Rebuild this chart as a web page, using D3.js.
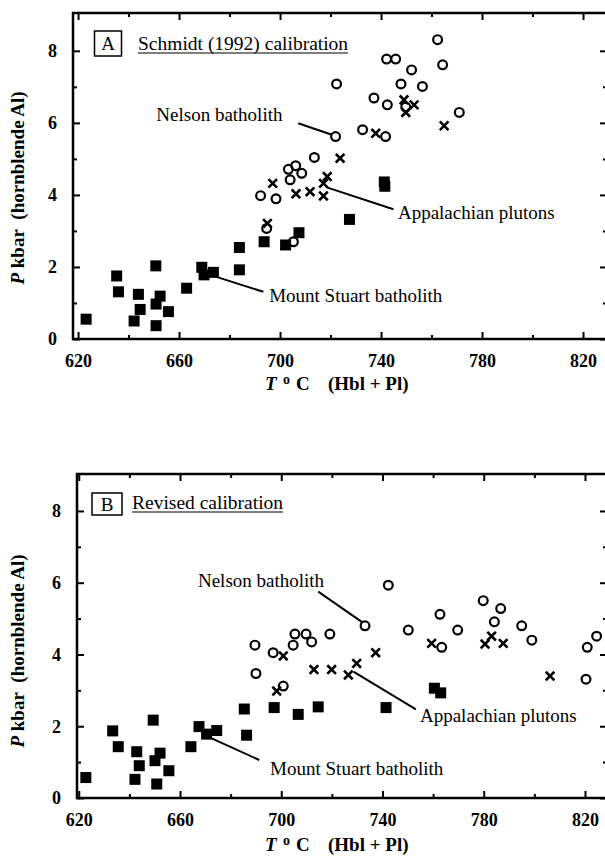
<!DOCTYPE html>
<html><head><meta charset="utf-8">
<script src="https://cdn.jsdelivr.net/npm/d3@7"></script>
<style>
html,body{margin:0;padding:0;background:#fff;}
svg{display:block;}
text{font-family:"Liberation Serif","Times New Roman",serif;fill:#000;}
</style></head>
<body>
<script>
// ---- tick values ----
const xTickLabels = [620, 660, 700, 740, 780, 820];
const xMinorTicks = [640, 680, 720, 760, 800];
const yTickLabels = [0, 2, 4, 6, 8];
const yMinorTicks = [1, 3, 5, 7];

// ---- Panel A: Schmidt (1992) calibration  [T degC, P kbar] ----
const aNelson = [[762.4,8.31],[742.2,7.77],[745.8,7.77],[764.4,7.61],[752.1,7.47],[722.4,7.08],[747.9,7.08],[756.4,7.01],[737.2,6.69],[742.5,6.5],[749.8,6.44],[771,6.29],[732.7,5.81],[741.8,5.62],[722,5.62],[713.6,5.04],[706.2,4.81],[703.3,4.71],[708.6,4.6],[704,4.42],[692.3,3.98],[698.4,3.89],[694.7,3.07],[705.3,2.7]];
const aAppalachian = [[749.1,6.64],[753.1,6.5],[749.8,6.29],[765,5.92],[737.9,5.71],[723.8,5.02],[718.7,4.51],[717.2,4.32],[697.1,4.32],[706.3,4.03],[711.9,4.09],[717.2,3.97],[695,3.21]];
const aStuart = [[623.2,0.55],[635.3,1.75],[636,1.31],[643.9,1.24],[644.6,0.82],[642.2,0.5],[650.8,2.03],[652.5,1.19],[650.9,0.97],[655.8,0.76],[650.9,0.37],[663,1.41],[669,1.99],[669.9,1.78],[673.6,1.85],[683.9,2.54],[683.9,1.92],[693.7,2.7],[702.2,2.61],[707.5,2.95],[727.5,3.32],[741.3,4.36],[741.5,4.24]];

// ---- Panel B: Revised calibration ----
const bNelson = [[742.3,5.93],[733.1,4.8],[779.8,5.5],[786.7,5.28],[762.7,5.12],[784.2,4.91],[795,4.8],[750.2,4.68],[769.7,4.68],[799,4.4],[763.4,4.2],[824.6,4.51],[820.9,4.2],[820.4,3.31],[719.2,4.57],[705.4,4.57],[709.8,4.57],[704.7,4.26],[712,4.35],[689.6,4.26],[696.8,4.05],[690,3.47],[700.8,3.12]];
const bAppalachian = [[700.8,3.96],[698.2,2.98],[712.9,3.58],[719.9,3.58],[726.5,3.43],[729.8,3.75],[737.3,4.05],[759.4,4.31],[780.5,4.29],[783.1,4.51],[787.7,4.31],[806.2,3.4]];
const bStuart = [[622.8,0.57],[633.4,1.87],[635.6,1.43],[642.9,1.29],[643.9,0.9],[642.2,0.52],[649.4,2.17],[652.1,1.25],[650.1,1.04],[655.6,0.76],[650.8,0.39],[664.3,1.43],[667.5,1.99],[670.5,1.78],[674.5,1.88],[685.4,2.48],[686.3,1.75],[697.2,2.52],[706.7,2.33],[714.6,2.54],[741.4,2.52],[760.5,3.06],[763,2.93]];

// ---- labels ----
const panelLetters = ["A", "B"];
const panelTitles = ["Schmidt (1992) calibration", "Revised calibration"];
const seriesNames = ["Nelson batholith", "Appalachian plutons", "Mount Stuart batholith"];
// leader lines in data space: [from T, from P, to T, to P], label anchor [T, P]
const aNotes = [
  {name: seriesNames[0], line: [707.2,5.99,720.5,5.67], at: [651,6.06]},
  {name: seriesNames[1], line: [718.5,4.21,744.9,3.6], at: [746.7,3.33]},
  {name: seriesNames[2], line: [672.3,1.78,693.4,1.31], at: [695.7,1.04]}
];
const bNotes = [
  {name: seriesNames[0], line: [714.6,5.75,731.8,4.91], at: [667.1,5.89]},
  {name: seriesNames[1], line: [728.5,3.52,753.2,2.47], at: [754.8,2.13]},
  {name: seriesNames[2], line: [672.5,1.66,691.3,1.06], at: [695.6,0.64]}
];

const W = 605, H = 857;
const svg = d3.select("body").append("svg").attr("width", W).attr("height", H);
svg.append("rect").attr("width", W).attr("height", H).attr("fill", "#fff");

function drawPanel(cfg) {
  const x = d3.scaleLinear().domain(cfg.xDomain).range([cfg.left, cfg.right]);
  const y = d3.scaleLinear().domain(cfg.yDomain).range([cfg.bottom, cfg.top]);
  const g = svg.append("g");

  // frame
  g.append("rect").attr("x", cfg.left).attr("y", cfg.top)
    .attr("width", cfg.right - cfg.left).attr("height", cfg.bottom - cfg.top)
    .attr("fill", "none").attr("stroke", "#000").attr("stroke-width", 2.5);

  const majorLen = 7, minorLen = 4;
  const fmt = d3.format("d");
  const xb = d3.axisBottom(x).tickValues(xTickLabels).tickSize(-majorLen).tickPadding(majorLen + 8).tickFormat(fmt);
  const gxb = g.append("g").attr("transform", `translate(0,${cfg.bottom})`).call(xb);
  const xt = d3.axisTop(x).tickValues(xTickLabels).tickSize(-majorLen).tickFormat("");
  const gxt = g.append("g").attr("transform", `translate(0,${cfg.top})`).call(xt);
  const xbm = d3.axisBottom(x).tickValues(xMinorTicks).tickSize(-minorLen).tickFormat("");
  const gxbm = g.append("g").attr("transform", `translate(0,${cfg.bottom})`).call(xbm);
  const xtm = d3.axisTop(x).tickValues(xMinorTicks).tickSize(-minorLen).tickFormat("");
  const gxtm = g.append("g").attr("transform", `translate(0,${cfg.top})`).call(xtm);

  const yl = d3.axisLeft(y).tickValues(yTickLabels).tickSize(-majorLen).tickPadding(majorLen + 9).tickFormat(fmt);
  const gyl = g.append("g").attr("transform", `translate(${cfg.left},0)`).call(yl);
  const yr = d3.axisRight(y).tickValues(yTickLabels).tickSize(-majorLen).tickFormat("");
  const gyr = g.append("g").attr("transform", `translate(${cfg.right},0)`).call(yr);
  const ylm = d3.axisLeft(y).tickValues(yMinorTicks).tickSize(-minorLen).tickFormat("");
  const gylm = g.append("g").attr("transform", `translate(${cfg.left},0)`).call(ylm);
  const yrm = d3.axisRight(y).tickValues(yMinorTicks).tickSize(-minorLen).tickFormat("");
  const gyrm = g.append("g").attr("transform", `translate(${cfg.right},0)`).call(yrm);

  [gxb, gxt, gxbm, gxtm, gyl, gyr, gylm, gyrm].forEach(a => {
    a.select(".domain").remove();
    a.selectAll(".tick line").attr("stroke", "#000").attr("stroke-width", 2);
  });
  [gxb, gyl].forEach(a => a.selectAll(".tick text")
    .attr("font-family", '"Liberation Serif", serif').attr("font-weight", "bold")
    .attr("font-size", 18).attr("fill", "#000"));

  // axis titles
  const yt = g.append("text")
    .attr("transform", `translate(${cfg.yLabelX},${cfg.yLabelY}) rotate(-90)`)
    .attr("text-anchor", "middle").attr("font-weight", "bold").attr("font-size", 19);
  yt.append("tspan").attr("font-style", "italic").text("P");
  yt.append("tspan").text(" kbar\u00a0\u00a0(hornblende Al)");

  const xl = cfg.xLabelBase;
  g.append("text").attr("x", 265).attr("y", xl).attr("font-weight", "bold").attr("font-style", "italic").attr("font-size", 19).text("T");
  g.append("text").attr("x", 283).attr("y", xl - 6).attr("font-weight", "bold").attr("font-size", 14).text("o");
  g.append("text").attr("x", 296).attr("y", xl).attr("font-weight", "bold").attr("font-size", 19).text("C");
  g.append("text").attr("x", 328).attr("y", xl).attr("font-weight", "bold").attr("font-size", 19).text("(Hbl + Pl)");

  // panel letter box & title
  g.append("rect").attr("x", cfg.boxX).attr("y", cfg.boxY).attr("width", cfg.boxW).attr("height", cfg.boxH)
    .attr("fill", "none").attr("stroke", "#000").attr("stroke-width", 1.5);
  g.append("text").attr("x", cfg.boxX + cfg.boxW / 2).attr("y", cfg.boxY + cfg.boxH / 2 + 6.5)
    .attr("text-anchor", "middle").attr("font-size", 19).text(cfg.letter);
  const tt = g.append("text").attr("x", cfg.titleX).attr("y", cfg.titleY).attr("font-size", 19.5).text(cfg.title);
  const tw = tt.node().getComputedTextLength();
  g.append("line").attr("x1", cfg.titleX).attr("x2", cfg.titleX + tw)
    .attr("y1", cfg.titleY + 3).attr("y2", cfg.titleY + 3).attr("stroke", "#000").attr("stroke-width", 1.2);

  // annotations
  cfg.notes.forEach(n => {
    g.append("line").attr("x1", x(n.line[0])).attr("y1", y(n.line[1]))
      .attr("x2", x(n.line[2])).attr("y2", y(n.line[3]))
      .attr("stroke", "#000").attr("stroke-width", 2);
    g.append("text").attr("x", x(n.at[0])).attr("y", y(n.at[1])).attr("font-size", 19).text(n.name);
  });

  // marks: squares
  const sq = 11;
  g.append("g").selectAll("rect").data(cfg.stuart).join("rect")
    .attr("x", d => x(d[0]) - sq / 2).attr("y", d => y(d[1]) - sq / 2)
    .attr("width", sq).attr("height", sq).attr("fill", "#000");
  // circles
  g.append("g").selectAll("circle").data(cfg.nelson).join("circle")
    .attr("cx", d => x(d[0])).attr("cy", d => y(d[1])).attr("r", 4.4)
    .attr("fill", "none").attr("stroke", "#000").attr("stroke-width", 2.2);
  // crosses
  const c = 4.3;
  g.append("g").selectAll("path").data(cfg.appalachian).join("path")
    .attr("d", d => {
      const px = x(d[0]), py = y(d[1]);
      return `M${px - c},${py - c}L${px + c},${py + c}M${px - c},${py + c}L${px + c},${py - c}`;
    })
    .attr("stroke", "#000").attr("stroke-width", 2.6).attr("fill", "none");
}

drawPanel({
  left: 73, right: 607, top: 13, bottom: 339,
  xDomain: [618, 829.5], yDomain: [0, 9.05],
  nelson: aNelson, appalachian: aAppalachian, stuart: aStuart, notes: aNotes,
  letter: panelLetters[0], title: panelTitles[0],
  boxX: 94.5, boxY: 31, boxW: 27, boxH: 25, titleX: 138, titleY: 50,
  yLabelX: 24, yLabelY: 188, xLabelBase: 390
});
drawPanel({
  left: 77, right: 607, top: 474, bottom: 798,
  xDomain: [619.3, 828.7], yDomain: [0, 9.03],
  nelson: bNelson, appalachian: bAppalachian, stuart: bStuart, notes: bNotes,
  letter: panelLetters[1], title: panelTitles[1],
  boxX: 92, boxY: 493, boxW: 30, boxH: 22, titleX: 132, titleY: 509,
  yLabelX: 24, yLabelY: 651, xLabelBase: 851
});
</script>
</body></html>
